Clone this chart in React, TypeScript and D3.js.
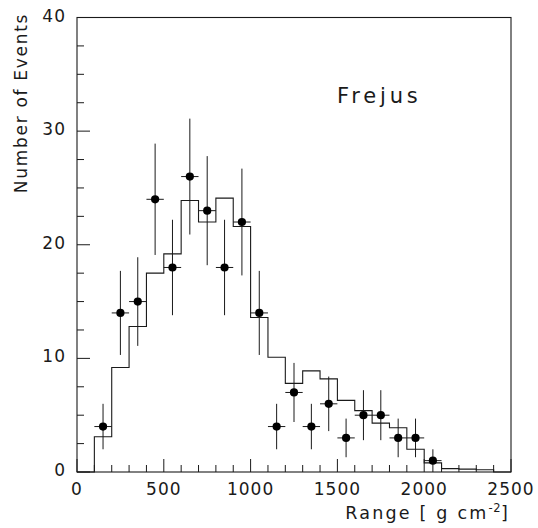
import React from "react";
import * as d3 from "d3";

// Monte Carlo histogram: bin lower edges (g cm^-2) and contents
const mcBinStart = [0, 100, 200, 300, 400, 500, 600, 700, 800, 900, 1000, 1100, 1200, 1300, 1400, 1500, 1600, 1700, 1800, 1900, 2000, 2100, 2200, 2300, 2400];
const mcCounts = [0, 3.1, 9.2, 12.8, 17.5, 19.2, 23.9, 22.0, 24.1, 21.6, 13.6, 10.1, 7.8, 8.9, 8.2, 6.3, 5.4, 4.3, 3.9, 2.0, 0.8, 0.3, 0.25, 0.2, 0];
const mcBinWidth = 100;

// Data points
const dataX = [150, 250, 350, 450, 550, 650, 750, 850, 950, 1050, 1150, 1250, 1350, 1450, 1550, 1650, 1750, 1850, 1950, 2050];
const dataY = [4, 14, 15, 24, 18, 26, 23, 18, 22, 14, 4, 7, 4, 6, 3, 5, 5, 3, 3, 1];
const dataErr = [2.0, 3.7, 3.9, 4.9, 4.2, 5.1, 4.8, 4.2, 4.7, 3.7, 2.0, 2.6, 2.0, 2.4, 1.7, 2.2, 2.2, 1.7, 1.7, 1.0];
const dataXHalf = [50, 50, 50, 50, 50, 50, 50, 50, 50, 50, 50, 50, 50, 50, 50, 50, 50, 50, 50, 50];

const xTickLabels = [0, 500, 1000, 1500, 2000, 2500];
const yTickLabels = [0, 10, 20, 30, 40];
const xMinorTicks = d3.range(0, 2501, 100);
const yMinorTicks = d3.range(0, 40.1, 2.5);

const W = 538;
const H = 528;
const left = 77;
const right = 511;
const top = 17.5;
const bottom = 472;

const FONT = "'DejaVu Sans', 'Liberation Sans', sans-serif";
const INK = "#1a1a1a";

export default function App() {
  const x = d3.scaleLinear().domain([0, 2500]).range([left, right]);
  const y = d3.scaleLinear().domain([0, 40]).range([bottom, top]);

  const histPts: [number, number][] = mcBinStart.map((b, i) => [b, mcCounts[i]]);
  histPts.push([mcBinStart[mcBinStart.length - 1] + mcBinWidth, 0]);
  const histPath = d3
    .line<[number, number]>()
    .x((d) => x(d[0]))
    .y((d) => y(d[1]))
    .curve(d3.curveStepAfter)(histPts) as string;

  return (
    <svg
      width={W}
      height={H}
      style={{ position: "absolute", left: 0, top: 0, background: "#fff" }}
      fontFamily={FONT}
    >
      <rect x={0} y={0} width={W} height={H} fill="#fff" />
      {/* frame */}
      <rect x={left} y={top} width={right - left} height={bottom - top} fill="none" stroke={INK} strokeWidth={1.1} />

      {/* x ticks */}
      {xMinorTicks.map((t) => {
        const major = t % 500 === 0;
        return (
          <line key={"xt" + t} x1={x(t)} x2={x(t)} y1={bottom} y2={bottom - (major ? 13 : 7)} stroke={INK} strokeWidth={1} />
        );
      })}
      {/* y ticks */}
      {yMinorTicks.map((t) => {
        const major = t % 10 === 0;
        return (
          <line key={"yt" + t} x1={left} x2={left + (major ? 13 : 7)} y1={y(t)} y2={y(t)} stroke={INK} strokeWidth={1} />
        );
      })}

      {/* x tick labels */}
      {xTickLabels.map((t) => (
        <text key={"xl" + t} x={x(t)} y={495} textAnchor="middle" fontSize={17} letterSpacing={1} fill={INK}>
          {t}
        </text>
      ))}
      {/* y tick labels */}
      {yTickLabels.map((t) => (
        <text key={"yl" + t} x={66} y={y(t) + 4} textAnchor="end" fontSize={17} letterSpacing={1} fill={INK}>
          {t}
        </text>
      ))}

      {/* axis titles */}
      <text x={510} y={519} textAnchor="end" fontSize={17.5} letterSpacing={2.2} fill={INK}>
        Range [ g cm
        <tspan dy={-7} fontSize={11.5} letterSpacing={0.5}>-2</tspan>
        <tspan dy={7}>]</tspan>
      </text>
      <text
        transform={`translate(27, 103) rotate(-90)`}
        textAnchor="middle"
        fontSize={17}
        letterSpacing={1.7}
        fill={INK}
      >
        Number of Events
      </text>

      {/* label */}
      <text x={337} y={103} fontSize={21} letterSpacing={3.8} fill={INK}>
        Frejus
      </text>

      {/* MC histogram */}
      <path d={histPath} fill="none" stroke={INK} strokeWidth={1.1} />

      {/* data points */}
      {dataX.map((xv, i) => (
        <g key={"p" + i}>
          <line x1={x(xv)} x2={x(xv)} y1={y(dataY[i] - dataErr[i])} y2={y(dataY[i] + dataErr[i])} stroke={INK} strokeWidth={1} />
          <line x1={x(xv - dataXHalf[i])} x2={x(xv + dataXHalf[i])} y1={y(dataY[i])} y2={y(dataY[i])} stroke={INK} strokeWidth={1} />
          <circle cx={x(xv)} cy={y(dataY[i])} r={4.1} fill="#000" />
        </g>
      ))}
    </svg>
  );
}
